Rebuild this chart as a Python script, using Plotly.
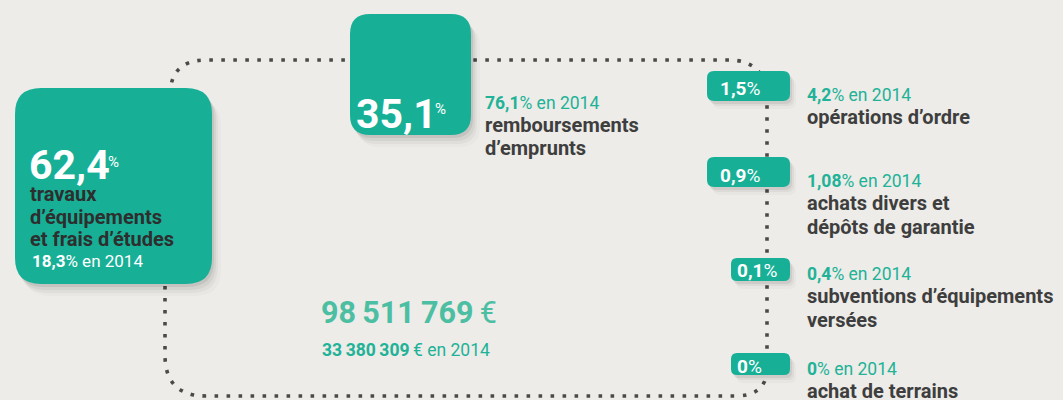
import plotly.graph_objects as go

# ---------------- data ----------------
labels = [["travaux", "d’équipements", "et frais d’études"],
          ["remboursements", "d’emprunts"],
          ["opérations d’ordre"],
          ["achats divers et", "dépôts de garantie"],
          ["subventions d’équipements", "versées"],
          ["achat de terrains"]]
share_2015 = [62.4, 35.1, 1.5, 0.9, 0.1, 0]
share_2015_txt = ["62,4", "35,1", "1,5", "0,9", "0,1", "0"]
share_2014_txt = ["18,3", "76,1", "4,2", "1,08", "0,4", "0"]
total_txt = "98\u2009511\u2009769"
total_2014_txt = "33\u2009380\u2009309"

# ---------------- layout constants ----------------
W, H = 1063, 400
BG = "#edece8"
TEAL = "#17b097"
TEAL_TXT = "#22b297"
TEAL_BIG = "#4cbea2"
DARK = "#3e3e3e"
FONT = "Roboto"

# box geometry (x0, y0, x1, y1, radius)
boxes = [(15, 88, 212, 284, 26),
         (350, 14, 471, 135, 20),
         (707, 71, 790, 101, 7),
         (707, 157, 790, 187, 7),
         (731, 258, 790, 281, 6),
         (731, 353, 790, 375, 6)]


def rr(x0, y0, x1, y1, r):
    return (f"M {x0+r},{y0} L {x1-r},{y0} Q {x1},{y0} {x1},{y0+r} "
            f"L {x1},{y1-r} Q {x1},{y1} {x1-r},{y1} L {x0+r},{y1} "
            f"Q {x0},{y1} {x0},{y1-r} L {x0},{y0+r} Q {x0},{y0} {x0+r},{y0} Z")


fig = go.Figure()
fig.add_trace(go.Scatter(x=[0], y=[0], mode="markers", marker=dict(opacity=0),
                         hoverinfo="skip", showlegend=False))

shapes = []
loop = ("M 165,286 L 165,355 Q 165,396 206,396 L 735,396 Q 767,396 767,368 "
        "L 767,100 Q 767,60 728,60 L 206,60 Q 170,60 170,96")
shapes.append(dict(type="path", path=loop, xref="x", yref="y",
                   line=dict(color="#4a4a4a", width=3.6, dash="3.6px,8.4px"),
                   layer="above"))
for (x0, y0, x1, y1, r) in boxes:
    big = (x1 - x0) > 100
    steps = [(2, 3, 0.07), (4, 6, 0.05), (6, 9, 0.035), (9, 12, 0.02)] if big else \
            [(2, 3, 0.07), (4, 5, 0.045), (6, 8, 0.025)]
    for dx, dy, a in steps:
        shapes.append(dict(type="path", path=rr(x0 + dx, y0 + dy, x1 + dx, y1 + dy, r),
                           xref="x", yref="y", fillcolor=f"rgba(0,0,0,{a})",
                           line=dict(width=0), layer="above"))
    shapes.append(dict(type="path", path=rr(x0, y0, x1, y1, r), xref="x", yref="y",
                       fillcolor=TEAL, line=dict(width=0), layer="above"))

ann = []


def txt(x, base, size, text, color, bold=False):
    t = f"<b>{text}</b>" if bold else text
    ann.append(dict(x=x, y=base - 0.35 * size, xref="x", yref="y", xanchor="left",
                    yanchor="middle", text=t, showarrow=False, align="left",
                    font=dict(family=FONT, size=size, color=color)))


def block(x, base, size, lines, step, color):
    for k, line in enumerate(lines):
        txt(x, base + k * step, size, line, color, bold=True)


# big box
txt(27, 179, 41, share_2015_txt[0], "white", bold=True)
txt(106, 167, 15, "%", "white")
block(28, 201, 20, labels[0], 22.5, "#2e2e2e")
txt(30, 267, 17, f"<b>{share_2014_txt[0]}</b>% en 2014", "white")

# second box
txt(354, 128, 41, share_2015_txt[1], "white", bold=True)
txt(433, 114, 15, "%", "white")
txt(483, 109, 17.5, f"<b>{share_2014_txt[1]}</b>% en 2014", TEAL_TXT)
block(483, 132, 20, labels[1], 23, DARK)

# small boxes
small = [(718, 95, 101, 124), (718, 182, 187, 210), (735, 277, 280, 303), (735, 373, 375, 398)]
for i, (bx, bb, b14, bl) in enumerate(small, start=2):
    txt(bx, bb, 19, f"<b>{share_2015_txt[i]}</b>%", "white")
    txt(805, b14, 17.5, f"<b>{share_2014_txt[i]}</b>% en 2014", TEAL_TXT)
    block(805, bl, 20, labels[i], 23.5, DARK)

# total
txt(319, 323, 30.5, f"<b>{total_txt}</b>\u2009€", TEAL_BIG)
txt(320, 356, 17.5, f"<b>{total_2014_txt}</b>\u2009€ en 2014", TEAL_TXT)

fig.update_layout(
    width=W, height=H, margin=dict(l=0, r=0, t=0, b=0),
    paper_bgcolor=BG, plot_bgcolor=BG,
    xaxis=dict(range=[0, W], visible=False, fixedrange=True),
    yaxis=dict(range=[H, 0], visible=False, fixedrange=True),
    shapes=shapes, annotations=ann, showlegend=False,
)
fig.write_html("out.html", config={"displayModeBar": False},
               post_script="document.body.style.margin='0';document.body.style.background='%s';" % BG)
